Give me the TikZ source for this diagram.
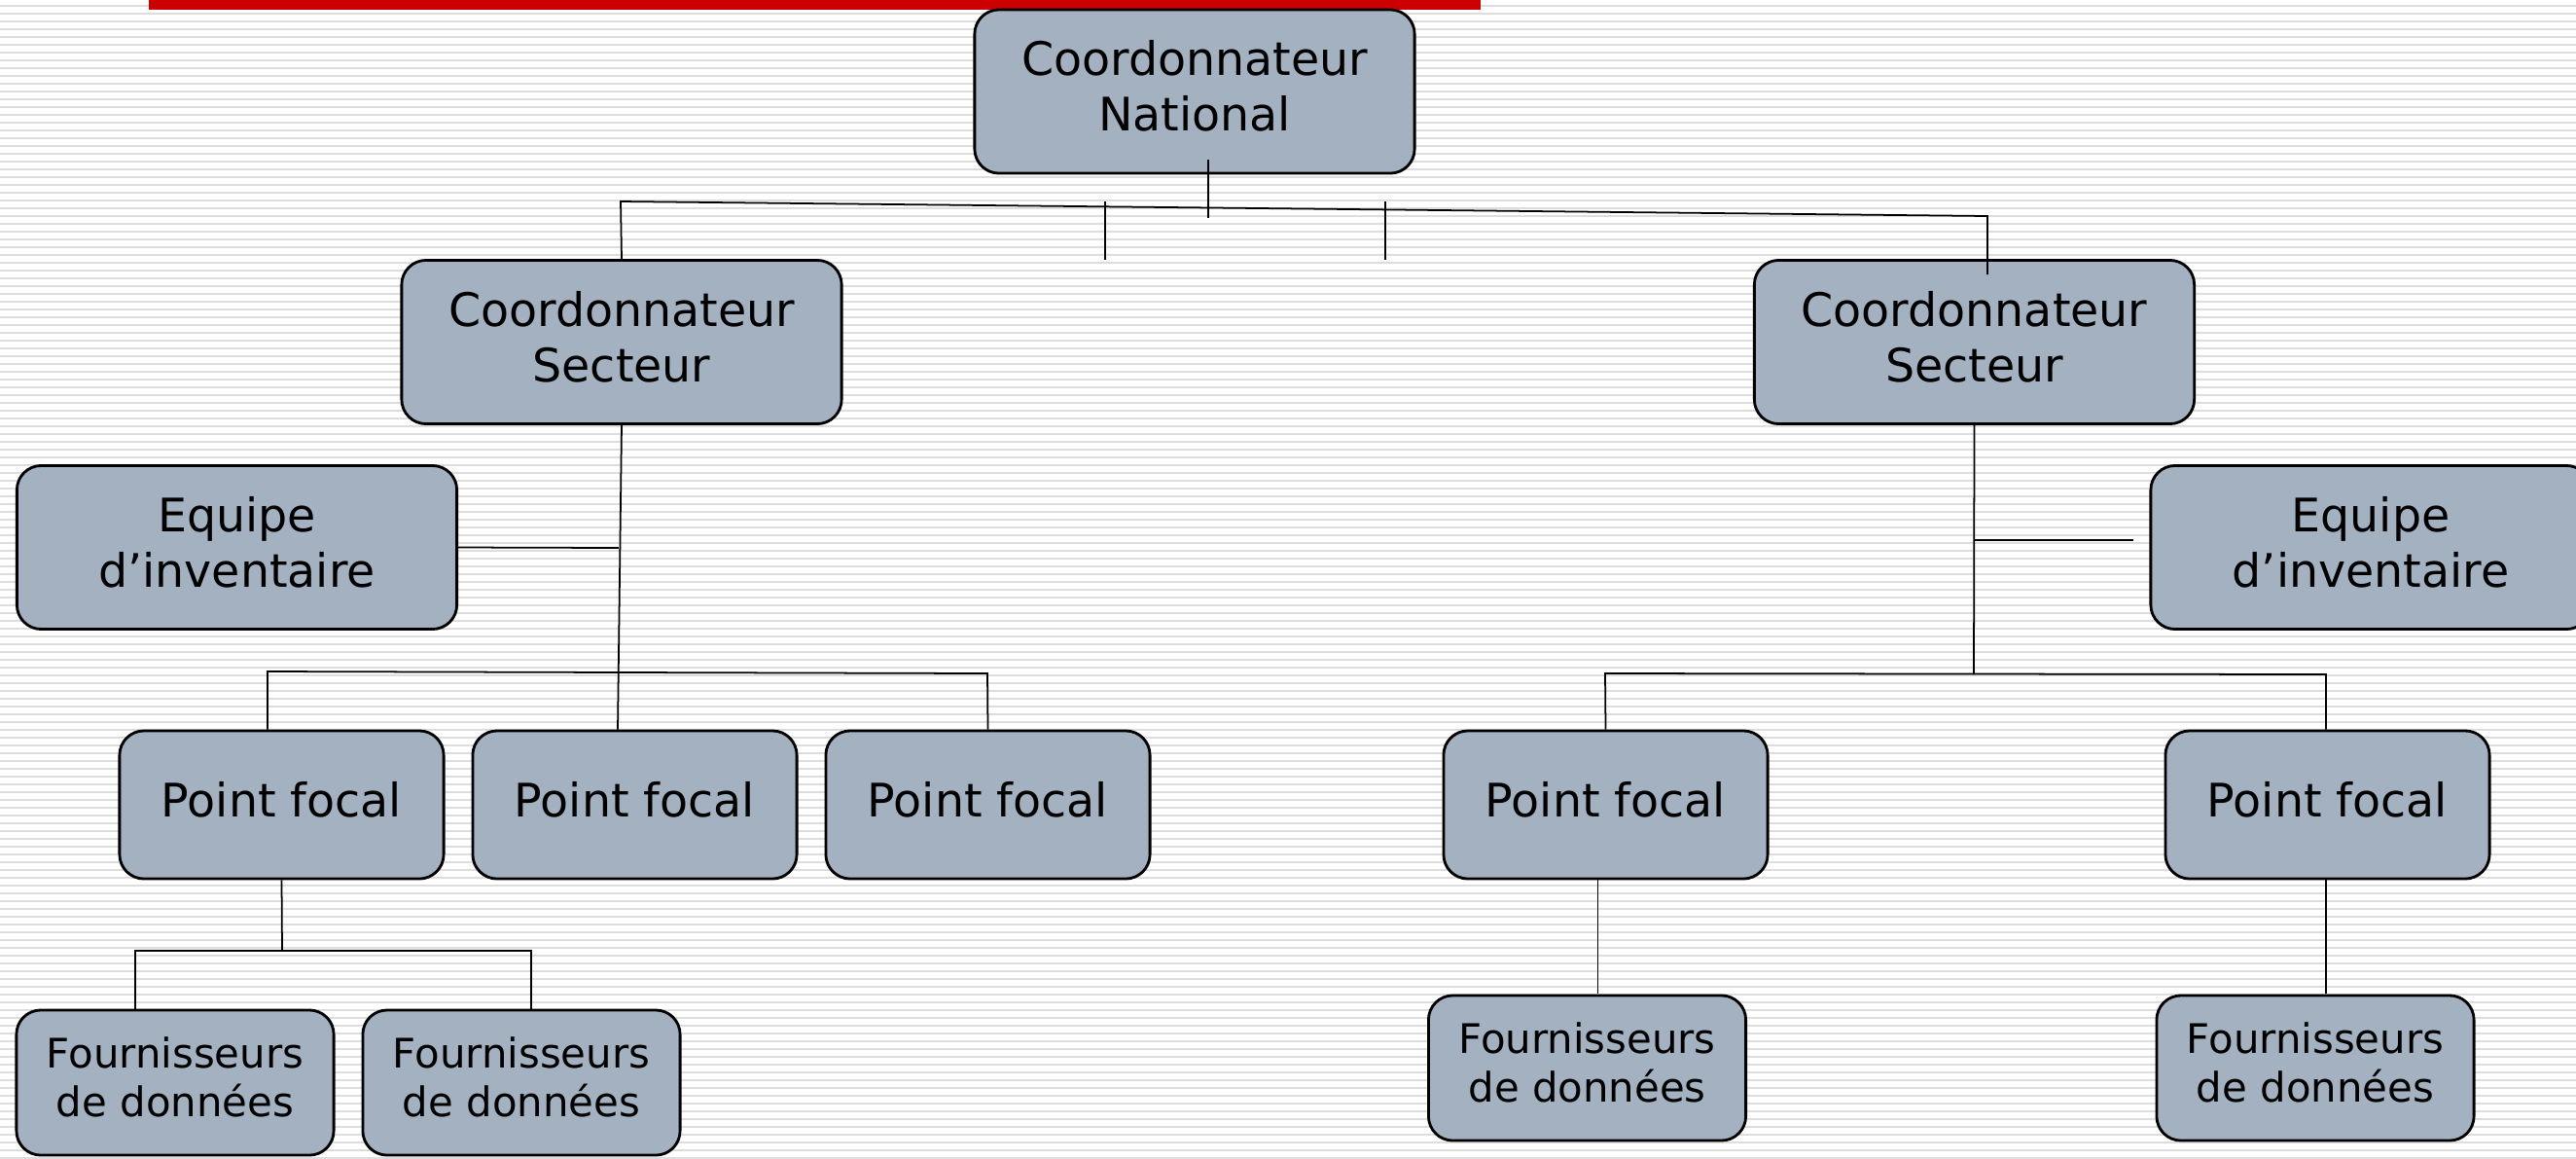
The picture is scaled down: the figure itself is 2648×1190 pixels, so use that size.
\documentclass[tikz,border=0pt]{standalone}
\usepackage{fontspec}
\setmainfont{DejaVu Sans}
\usepackage{tikz}
\usepackage{color}
\definecolor{rolefill}{RGB}{163,177,193}
\definecolor{ruling}{RGB}{221,221,221}
\definecolor{titlebar}{RGB}{204,0,0}
\tikzstyle{role} = [rectangle, draw, line width=0.8pt, fill=rolefill,
    rounded corners=0.25cm, align=center, inner sep=0pt, text depth=0.12cm,
    font=\fontsize{13.5}{16.2}\selectfont, minimum width=4.52cm, minimum height=1.68cm]
\tikzstyle{focal} = [role, minimum width=3.33cm, minimum height=1.52cm]
\tikzstyle{supplier} = [role, font=\fontsize{11.9}{14.2}\selectfont,
    minimum width=3.26cm, minimum height=1.49cm]
\tikzstyle{link} = [draw, line width=0.5pt]
\usetikzlibrary{positioning,calc}

\begin{document}
\begin{tikzpicture}[x=0.01cm, y=-0.01cm]
    % Page and ruled background
    \useasboundingbox (0,0) rectangle (2648,1190);
    \fill[white] (0,0) rectangle (2648,1190);
    \foreach \k in {0,...,148}
        \fill[ruling] (0,5+8*\k) rectangle (2648,7+8*\k);
    \fill[titlebar] (153,0) rectangle (1522,10);
    % Place nodes
    \node [role] (cn) at (1228,94) {Coordonnateur\\National};
    \node [role] (cs1) at (639,351.5) {Coordonnateur\\Secteur};
    \node [role] (cs2) at (2029.5,351.5) {Coordonnateur\\Secteur};
    \node [role] (eq1) at (243.5,562.5) {Equipe\\d’inventaire};
    \node [role] (eq2) at (2437,562.5) {Equipe\\d’inventaire};
    \node [focal] (pf1) at (289.5,827) {Point focal};
    \node [focal] (pf2) at (652.5,827) {Point focal};
    \node [focal] (pf3) at (1015.5,827) {Point focal};
    \node [focal] (pf4) at (1650.5,827) {Point focal};
    \node [focal] (pf5) at (2392.5,827) {Point focal};
    \node [supplier] (fd1) at (180,1112.5) {Fournisseurs\\de données};
    \node [supplier] (fd2) at (536,1112.5) {Fournisseurs\\de données};
    \node [supplier] (fd3) at (1631.5,1097.5) {Fournisseurs\\de données};
    \node [supplier] (fd4) at (2380,1097.5) {Fournisseurs\\de données};
    % Bus points
    \coordinate (nl) at (638,207);
    \coordinate (nr) at (2043,222);
    \coordinate (sl) at (636,563);
    \coordinate (bl) at (275,690);
    \coordinate (br) at (1015,692);
    \coordinate (fl) at (139,977);
    \coordinate (fr) at (546,977);
    \coordinate (sr) at (2029,555);
    \coordinate (el) at (2193,555);
    \coordinate (ql) at (1650,692);
    \coordinate (qr) at (2391,693);
    % Draw edges
    \path [link] ($(cn.south)+(14,-15)$) -- ++(0,60);
    \path [link] (cs1.north) -- (nl) -- (nr) -- ++(0,60);
    \path [link] (1136,207) -- (1136,267);
    \path [link] (1424,207) -- (1424,267);
    \path [link] (cs1.south) -- (pf2.north -| 635,0);
    \path [link] (eq1.east) -- (sl);
    \path [link] (pf1.north -| bl) -- (bl) -- (br) -- (pf3.north);
    \path [link] (pf1.south) -- (290,977);
    \path [link] (fd1.north -| fl) -- (fl) -- (fr) -- (fd2.north -| fr);
    \path [link] (cs2.south) -- (2029,693);
    \path [link] (sr) -- (el);
    \path [link] (pf4.north) -- (ql) -- (qr) -- (pf5.north -| qr);
    \path [link] ($(pf4.south)+(-8,0)$) -- ++(0,117);
    \path [link] (pf5.south -| qr) -- ++(0,117);
\end{tikzpicture}
\end{document}
